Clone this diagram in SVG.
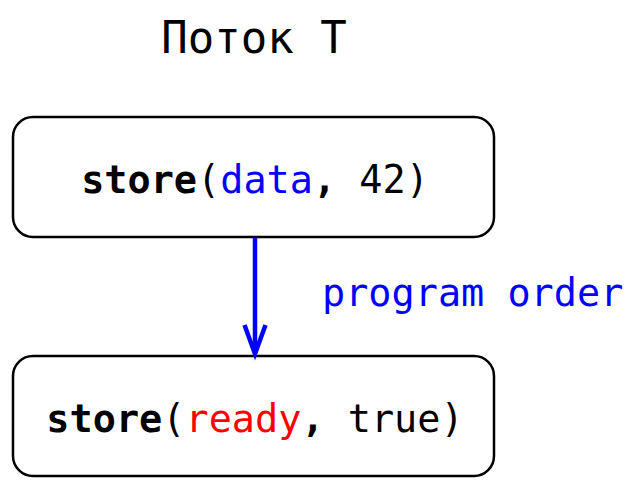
<svg xmlns="http://www.w3.org/2000/svg" width="638" height="494" viewBox="0 0 638 494">
<style>
text{font-family:"DejaVu Sans Mono","Liberation Mono",monospace;}
.box{fill:#fff;stroke:#000;stroke-width:2.5;}
.code{font-size:38.5px;fill:#000;text-anchor:middle;}
.kw{font-weight:bold;}
.conn{stroke:#0000ff;stroke-width:4.5;fill:none;}
</style>
<rect width="638" height="494" fill="#fff"/>
<text id="title" x="254" y="53" font-size="44" text-anchor="middle">Поток T</text>
<g id="node1">
<rect class="box" x="13" y="117" width="481" height="120" rx="20"/>
<text class="code" x="255" y="193"><tspan class="kw">store</tspan>(<tspan fill="#0000ff">data</tspan><tspan class="kw">,</tspan> 42)</text>
</g>
<g id="node2">
<rect class="box" x="13" y="356" width="481" height="120" rx="20"/>
<text class="code" x="255" y="432"><tspan class="kw">store</tspan>(<tspan fill="#ff0000">ready</tspan><tspan class="kw">,</tspan> true)</text>
</g>
<g id="connectors">
<line class="conn" x1="255" y1="238" x2="255" y2="353"/>
<polyline class="conn" points="244.5,325 255,354 265.5,325" stroke-linejoin="miter"/>
<text x="322" y="306" font-size="38.5" fill="#0000ff">program order</text>
</g>
</svg>
